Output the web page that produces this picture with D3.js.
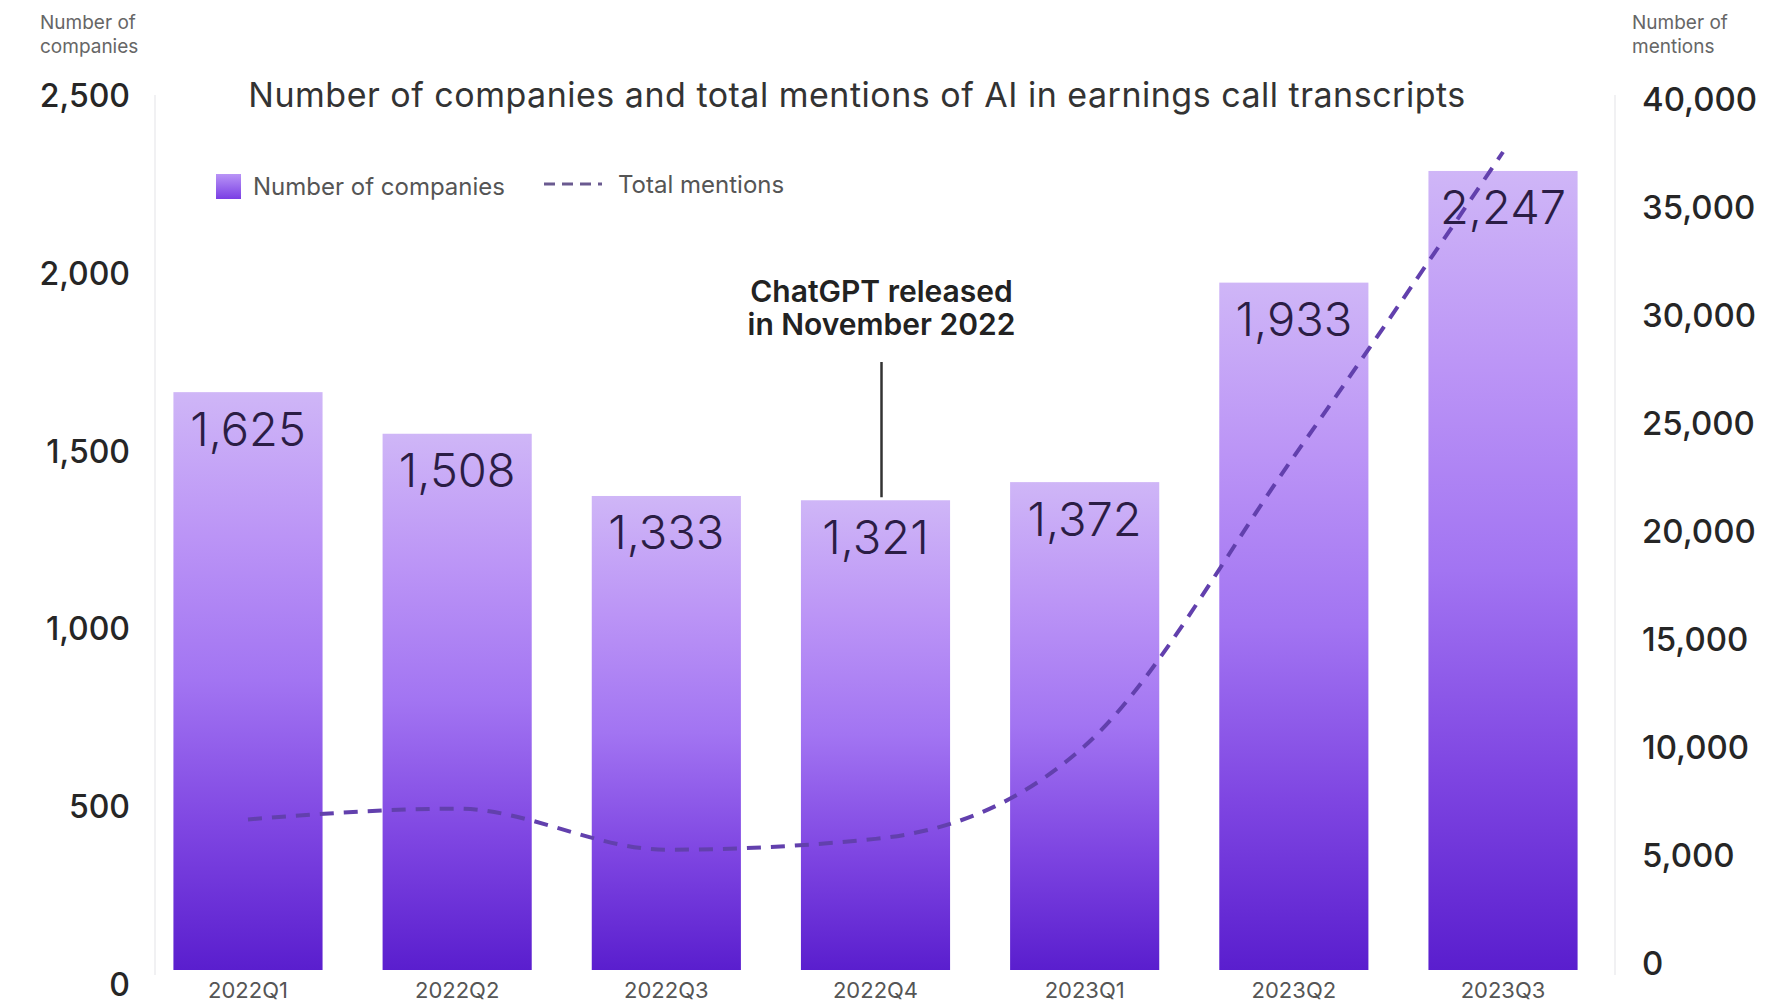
<!DOCTYPE html>
<html>
<head>
<meta charset="utf-8">
<script src="https://cdn.jsdelivr.net/npm/d3@7"></script>
<style>
  html, body { margin: 0; padding: 0; background: #ffffff; }
  svg { display: block; font-family: "Inter", "Lato", sans-serif; }
</style>
</head>
<body>
<svg id="chart" width="1786" height="1005"></svg>
<script>
// Quarterly AI mentions in earnings call transcripts
const quarters = ["2022Q1", "2022Q2", "2022Q3", "2022Q4", "2023Q1", "2023Q2", "2023Q3"];
const companies = [1625, 1508, 1333, 1321, 1372, 1933, 2247];
const mentions = [6600, 7100, 5200, 5700, 10000, 23400, 37500];
const leftTicks = [0, 500, 1000, 1500, 2000, 2500];
const rightTicks = [0, 5000, 10000, 15000, 20000, 25000, 30000, 35000, 40000];
const titleText = "Number of companies and total mentions of AI in earnings call transcripts";
const annotationLines = ["ChatGPT released", "in November 2022"];
const annotationQuarter = "2022Q4";

const svg = d3.select("#chart");
const fmt = d3.format(",");

const x = d3.scaleBand()
  .domain(quarters)
  .range([143.4, 1607.6])
  .paddingInner(0.287)
  .paddingOuter(0.1435);

const yLeft = d3.scaleLinear().domain([0, 2500]).range([970, 81]);
const yRight = d3.scaleLinear().domain([0, 40000]).range([962, 98]);

// Bar gradient: pale lavender at the top, deep violet at the base
const defs = svg.append("defs");
const grad = defs.append("linearGradient")
  .attr("id", "barGrad").attr("x1", 0).attr("y1", 0).attr("x2", 0).attr("y2", 1);
[[0, "#cfb6f7"], [0.25, "#bb94f6"], [0.5, "#a274f2"], [0.75, "#7f46e2"], [1, "#5a1ece"]]
  .forEach(([o, c]) => grad.append("stop").attr("offset", o).attr("stop-color", c));
const legGrad = defs.append("linearGradient")
  .attr("id", "legGrad").attr("x1", 0).attr("y1", 0).attr("x2", 0).attr("y2", 1);
[[0, "#b994f6"], [1, "#7a3fe4"]]
  .forEach(([o, c]) => legGrad.append("stop").attr("offset", o).attr("stop-color", c));

// Faint frame lines beside both axes
svg.append("g").selectAll("line")
  .data([155, 1615])
  .join("line")
  .attr("x1", d => d).attr("x2", d => d)
  .attr("y1", 95).attr("y2", 975)
  .attr("stroke", "#f1f1f3").attr("stroke-width", 2);

// Bars
svg.append("g").selectAll("rect")
  .data(quarters)
  .join("rect")
  .attr("x", d => x(d))
  .attr("width", x.bandwidth())
  .attr("y", (d, i) => yLeft(companies[i]))
  .attr("height", (d, i) => yLeft(0) - yLeft(companies[i]))
  .attr("fill", "url(#barGrad)");

// Value labels inside the bars
svg.append("g").selectAll("text")
  .data(quarters)
  .join("text")
  .attr("x", d => x(d) + x.bandwidth() / 2)
  .attr("y", (d, i) => yLeft(companies[i]) + 36)
  .attr("text-anchor", "middle")
  .attr("dominant-baseline", "central")
  .attr("font-size", 47)
  .attr("font-weight", 300)
  .attr("fill", "#2b1d45")
  .text((d, i) => fmt(companies[i]));

// Total mentions line
const line = d3.line()
  .x((d, i) => x(quarters[i]) + x.bandwidth() / 2)
  .y(d => yRight(d))
  .curve(d3.curveMonotoneX);
svg.append("path")
  .datum(mentions)
  .attr("d", line)
  .attr("fill", "none")
  .attr("stroke", "#6240ad")
  .attr("stroke-width", 4)
  .attr("stroke-dasharray", "14,10");

// Left axis
const gLeft = svg.append("g")
  .attr("transform", "translate(130,0)")
  .call(d3.axisLeft(yLeft).tickValues(leftTicks).tickFormat(fmt).tickSize(0).tickPadding(0));
gLeft.select(".domain").remove();
gLeft.selectAll("text")
  .attr("dy", 14).attr("dominant-baseline", "central")
  .attr("font-family", "Inter, sans-serif")
  .attr("font-size", 32).attr("font-weight", 500).attr("fill", "#262626");

// Right axis
const gRight = svg.append("g")
  .attr("transform", "translate(1642,0)")
  .call(d3.axisRight(yRight).tickValues(rightTicks).tickFormat(fmt).tickSize(0).tickPadding(0));
gRight.select(".domain").remove();
gRight.selectAll("text")
  .attr("dy", 0).attr("dominant-baseline", "central")
  .attr("font-family", "Inter, sans-serif")
  .attr("font-size", 33).attr("font-weight", 500).attr("fill", "#262626");

// Category axis
const gBottom = svg.append("g")
  .attr("transform", "translate(0,990)")
  .call(d3.axisBottom(x).tickSize(0).tickPadding(0));
gBottom.select(".domain").remove();
gBottom.selectAll("text")
  .attr("dy", 0).attr("y", 0).attr("dominant-baseline", "central")
  .attr("font-family", "Inter, sans-serif")
  .attr("font-size", 22).attr("fill", "#555");

// Axis titles
const axisTitle = (xPos, lines) => {
  const t = svg.append("text")
    .attr("x", xPos).attr("y", 29)
    .attr("font-size", 19).attr("fill", "#666");
  lines.forEach((s, i) => t.append("tspan").attr("x", xPos).attr("dy", i ? 24 : 0).text(s));
};
axisTitle(40, ["Number of", "companies"]);
axisTitle(1632, ["Number of", "mentions"]);

// Title
svg.append("text")
  .attr("x", 857).attr("y", 94)
  .attr("text-anchor", "middle").attr("dominant-baseline", "central")
  .attr("font-size", 34).attr("letter-spacing", 0.5).attr("fill", "#333")
  .text(titleText);

// Legend
const leg = svg.append("g").attr("transform", "translate(216,186)");
leg.append("rect").attr("x", 0).attr("y", -12).attr("width", 25).attr("height", 25).attr("fill", "url(#legGrad)");
leg.append("text").attr("x", 37).attr("y", 0).attr("dominant-baseline", "central")
  .attr("font-size", 24).attr("fill", "#555").text("Number of companies");
leg.append("line").attr("x1", 328).attr("x2", 386).attr("y1", -2).attr("y2", -2)
  .attr("stroke", "#6a5a90").attr("stroke-width", 3).attr("stroke-dasharray", "11,7");
leg.append("text").attr("x", 402).attr("y", -2).attr("dominant-baseline", "central")
  .attr("font-size", 24).attr("fill", "#555").text("Total mentions");

// ChatGPT release annotation
const annX = x(annotationQuarter) + x.bandwidth() / 2 + 6;
const annVal = companies[quarters.indexOf(annotationQuarter)];
svg.append("line")
  .attr("x1", annX).attr("x2", annX)
  .attr("y1", 362).attr("y2", yLeft(annVal) - 3)
  .attr("stroke", "#333").attr("stroke-width", 2.5);
const ann = svg.append("text")
  .attr("x", annX).attr("text-anchor", "middle")
  .attr("font-size", 30).attr("font-weight", 600).attr("fill", "#222");
annotationLines.forEach((s, i) => ann.append("tspan")
  .attr("x", annX).attr("y", 302 + i * 33).text(s));
</script>
</body>
</html>
